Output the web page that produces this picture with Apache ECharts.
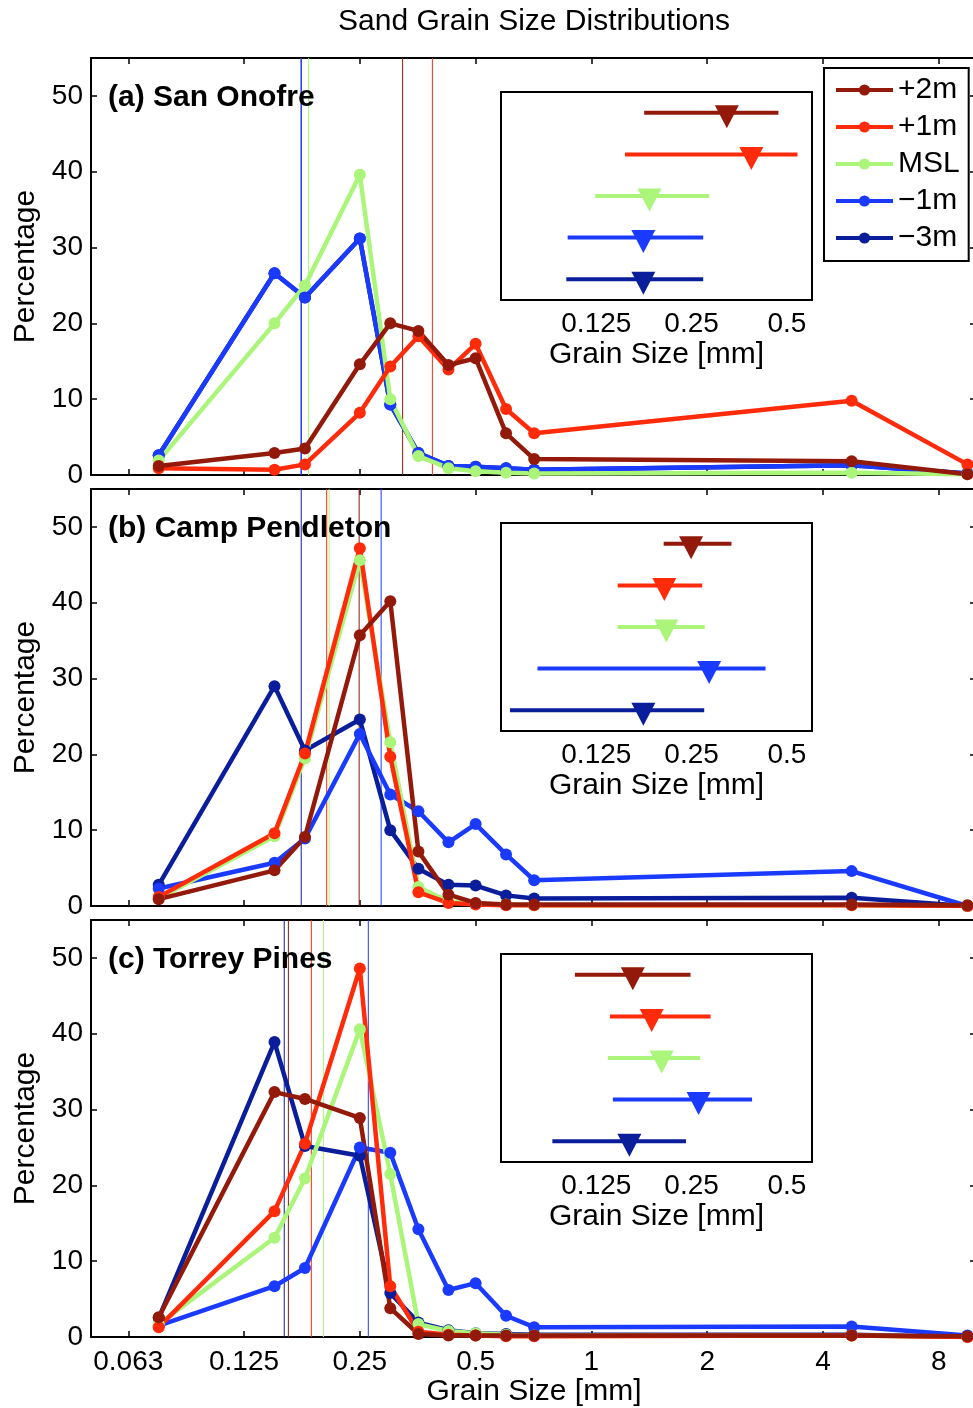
<!DOCTYPE html>
<html>
<head>
<meta charset="utf-8">
<script src="https://cdn.jsdelivr.net/npm/echarts@6/dist/echarts.min.js"></script>
<style>
  html, body { margin: 0; padding: 0; background: #fff; }
  #chart { width: 973px; height: 1408px; }
</style>
</head>
<body>
<div id="chart"></div>
<script>
// Sieve openings (mm) at which the retained percentage was measured
const sieveSizes = [0.075, 0.15, 0.18, 0.25, 0.3, 0.355, 0.425, 0.5, 0.6, 0.71, 4.75, 9.5];

// Beach elevations and their colours
const levels = ['+2m', '+1m', 'MSL', '−1m', '−3m'];
const levelColors = ['#931A0B', '#FF2B0A', '#AAF57A', '#1A3BFF', '#0A1E9C'];
const siteTitles = ['(a) San Onofre', '(b) Camp Pendleton', '(c) Torrey Pines'];

// Main axis ticks
const xTickValues = [0.0625, 0.125, 0.25, 0.5, 1, 2, 4, 8];
const xTickLabels = ['0.063', '0.125', '0.25', '0.5', '1', '2', '4', '8'];
const yTickValues = [0, 10, 20, 30, 40, 50];
// Inset axis ticks
const insetTickValues = [0.125, 0.25, 0.5];
const insetTickLabels = ['0.125', '0.25', '0.5'];

// Percentage retained per sieve — San Onofre
const soPlus2  = [1.2, 2.9, 3.5, 14.6, 20.0, 19.0, 14.5, 15.4, 5.5, 2.1, 1.8, 0.1];
const soPlus1  = [0.9, 0.7, 1.4, 8.2, 14.3, 18.3, 13.9, 17.3, 8.7, 5.5, 9.8, 1.4];
const soMSL    = [1.9, 20.0, 25.0, 39.6, 10.0, 2.5, 0.9, 0.5, 0.3, 0.2, 0.3, 0.1];
const soMinus1 = [2.6, 26.6, 23.4, 31.2, 9.3, 2.9, 1.2, 1.1, 0.9, 0.7, 1.3, 0.2];
const soMinus3 = [2.6, 26.6, 23.4, 31.2, 9.3, 2.9, 1.2, 1.1, 0.9, 0.7, 1.3, 0.2];

// Percentage retained per sieve — Camp Pendleton
const cpPlus2  = [0.9, 4.7, 9.1, 35.7, 40.2, 7.2, 1.5, 0.4, 0.2, 0.2, 0.2, 0.1];
const cpPlus1  = [1.2, 9.6, 20.1, 47.2, 19.7, 1.8, 0.4, 0.2, 0.1, 0.1, 0.1, 0.0];
const cpMSL    = [1.0, 9.2, 19.5, 45.6, 21.6, 2.5, 0.6, 0.3, 0.2, 0.1, 0.1, 0.0];
const cpMinus1 = [2.3, 5.7, 8.9, 22.7, 14.7, 12.5, 8.4, 10.8, 6.8, 3.4, 4.6, 0.0];
const cpMinus3 = [2.8, 29.0, 20.5, 24.6, 10.0, 4.9, 2.8, 2.7, 1.4, 1.0, 1.1, 0.0];

// Percentage retained per sieve — Torrey Pines
const tpPlus2  = [2.6, 32.3, 31.4, 28.9, 3.8, 0.4, 0.2, 0.2, 0.2, 0.2, 0.2, 0.1];
const tpPlus1  = [1.3, 16.6, 25.5, 48.6, 6.7, 0.7, 0.3, 0.2, 0.1, 0.1, 0.2, 0.0];
const tpMSL    = [1.7, 13.1, 20.9, 40.6, 21.5, 1.7, 0.8, 0.5, 0.3, 0.2, 0.2, 0.0];
const tpMinus1 = [1.5, 6.7, 9.1, 25.0, 24.3, 14.2, 6.2, 7.1, 2.8, 1.3, 1.4, 0.2];
const tpMinus3 = [2.5, 38.9, 25.2, 23.9, 5.8, 1.9, 0.9, 0.5, 0.4, 0.3, 0.3, 0.0];

// Mean grain size (mm) per level, with the low/high spread
const soMean = [0.323, 0.386, 0.184, 0.176, 0.176];
const soLow  = [0.177, 0.154, 0.124, 0.1015, 0.1005];
const soHigh = [0.470, 0.540, 0.284, 0.272, 0.272];

const cpMean = [0.249, 0.205, 0.208, 0.284, 0.176];
const cpLow  = [0.204, 0.146, 0.146, 0.0815, 0.0667];
const cpHigh = [0.334, 0.270, 0.275, 0.428, 0.274];

const tpMean = [0.163, 0.187, 0.201, 0.263, 0.159];
const tpLow  = [0.107, 0.138, 0.136, 0.141, 0.0908];
const tpHigh = [0.248, 0.287, 0.266, 0.388, 0.240];

const sitePercent = [
  [soPlus2, soPlus1, soMSL, soMinus1, soMinus3],
  [cpPlus2, cpPlus1, cpMSL, cpMinus1, cpMinus3],
  [tpPlus2, tpPlus1, tpMSL, tpMinus1, tpMinus3]
];
const siteMean = [soMean, cpMean, tpMean];
const siteLow  = [soLow, cpLow, tpLow];
const siteHigh = [soHigh, cpHigh, tpHigh];

// ---- layout ----
const FONT = '"Liberation Sans", Arial, Helvetica, sans-serif';
const Y_MAX = 55;
const mainTops = [58, 489, 920];
const mainHeight = 417;
const mainLeft = 91;
const mainWidth = 885;
const insetTops = [92, 523, 954];
const insetLeft = 501;
const insetWidth = 311;
const insetHeight = 208;

const axisLineStyle = { color: '#000', width: 2 };
const tickStyle = { color: '#000', width: 1.5 };
const labelFont = { fontSize: 28, fontFamily: FONT, color: '#000' };

const grid = [];
const xAxis = [];
const yAxis = [];
const series = [];
const graphic = [];

for (let i = 0; i < 3; i++) {
  grid.push({
    left: mainLeft, top: mainTops[i], width: mainWidth, height: mainHeight,
    containLabel: false, outerBoundsMode: 'none'
  });
}
for (let i = 0; i < 3; i++) {
  grid.push({
    left: insetLeft, top: insetTops[i], width: insetWidth, height: insetHeight,
    containLabel: false, outerBoundsMode: 'none',
    show: true, backgroundColor: '#fff', borderColor: '#000', borderWidth: 2, z: 4
  });
}

function logXAxis(gridIndex, position, min, max, ticks, labels, showLabels, margin) {
  return {
    type: 'log', logBase: 2, gridIndex, position, min, max,
    axisLine: { show: true, lineStyle: axisLineStyle, onZero: false },
    axisTick: { show: true, inside: true, length: 6, customValues: ticks, lineStyle: tickStyle },
    axisLabel: {
      show: showLabels, customValues: ticks, margin,
      formatter: (v) => {
        const k = ticks.findIndex(t => Math.abs(t - v) < 1e-9);
        return k >= 0 ? labels[k] : '';
      },
      ...labelFont
    },
    splitLine: { show: false },
    minorTick: { show: false },
    minorSplitLine: { show: false }
  };
}

// main axes: x bottom/top, y left/right
for (let i = 0; i < 3; i++) {
  xAxis.push(logXAxis(i, 'bottom', 0.05, 10, xTickValues, xTickLabels, i === 2, 11));
  xAxis.push(logXAxis(i, 'top', 0.05, 10, xTickValues, xTickLabels, false, 8));
  yAxis.push({
    type: 'value', gridIndex: i, position: 'left', min: 0, max: Y_MAX,
    axisLine: { show: true, lineStyle: axisLineStyle, onZero: false },
    axisTick: { show: true, inside: true, length: 6, customValues: yTickValues, lineStyle: tickStyle },
    axisLabel: { show: true, customValues: yTickValues, margin: 8, ...labelFont },
    splitLine: { show: false }
  });
  yAxis.push({
    type: 'value', gridIndex: i, position: 'right', min: 0, max: Y_MAX,
    axisLine: { show: true, lineStyle: axisLineStyle, onZero: false },
    axisTick: { show: true, inside: true, length: 6, customValues: yTickValues, lineStyle: tickStyle },
    axisLabel: { show: false },
    splitLine: { show: false }
  });
}
// inset axes
for (let i = 0; i < 3; i++) {
  const g = 3 + i;
  xAxis.push(logXAxis(g, 'bottom', 0.0625, 0.6, insetTickValues, insetTickLabels, true, 10));
  xAxis.push(logXAxis(g, 'top', 0.0625, 0.6, insetTickValues, insetTickLabels, false, 8));
  yAxis.push({
    type: 'value', gridIndex: g, position: 'left', min: 0.5, max: 5.5, inverse: true,
    axisLine: { show: false }, axisTick: { show: false }, axisLabel: { show: false },
    splitLine: { show: false }
  });
  yAxis.push({
    type: 'value', gridIndex: g, position: 'right', min: 0.5, max: 5.5, inverse: true,
    axisLine: { show: false }, axisTick: { show: false }, axisLabel: { show: false },
    splitLine: { show: false }
  });
}

for (let i = 0; i < 3; i++) {
  // thin vertical line at the mean grain size of each level
  for (let j = levels.length - 1; j >= 0; j--) {
    series.push({
      name: levels[j] + ' mean ' + i, type: 'line', xAxisIndex: 2 * i, yAxisIndex: 2 * i,
      data: [[siteMean[i][j], 0], [siteMean[i][j], Y_MAX]],
      symbol: 'none', lineStyle: { color: levelColors[j], width: 1 },
      z: 1, silent: true, animation: false
    });
  }
  // distributions, drawn from deepest to highest elevation
  for (let j = levels.length - 1; j >= 0; j--) {
    series.push({
      name: levels[j], type: 'line', xAxisIndex: 2 * i, yAxisIndex: 2 * i,
      data: sieveSizes.map((s, k) => [s, sitePercent[i][j][k]]),
      symbol: 'circle', symbolSize: 12, showSymbol: true,
      lineStyle: { color: levelColors[j], width: 4.5 },
      itemStyle: { color: levelColors[j] },
      z: 3, animation: false
    });
  }
  // inset: spread bars and mean triangles
  const ix = 6 + 2 * i;
  for (let j = 0; j < levels.length; j++) {
    series.push({
      name: levels[j] + ' spread ' + i, type: 'line', xAxisIndex: ix, yAxisIndex: ix,
      data: [[siteLow[i][j], j + 1], [siteHigh[i][j], j + 1]],
      symbol: 'none', lineStyle: { color: levelColors[j], width: 4 },
      z: 5, animation: false, silent: true
    });
  }
  series.push({
    name: 'mean ' + i, type: 'scatter', xAxisIndex: ix, yAxisIndex: ix,
    data: levels.map((lv, j) => ({ value: [siteMean[i][j], j + 1], itemStyle: { color: levelColors[j], opacity: 1 } })),
    symbol: 'triangle', symbolRotate: 180, symbolSize: [24, 23], symbolOffset: [0, 4],
    itemStyle: { opacity: 1 },
    z: 6, animation: false, silent: true
  });

  // panel titles, y-axis names and inset axis names
  graphic.push({
    type: 'text', x: 108, y: mainTops[i] + 40,
    style: { text: siteTitles[i], font: 'bold 30px ' + FONT, fill: '#000',
             align: 'left', verticalAlign: 'middle', textAlign: 'left', textVerticalAlign: 'middle' },
    z: 20
  });
  graphic.push({
    type: 'text', x: 26, y: mainTops[i] + mainHeight / 2, rotation: Math.PI / 2,
    style: { text: 'Percentage', font: '30px ' + FONT, fill: '#000',
             align: 'center', verticalAlign: 'middle', textAlign: 'center', textVerticalAlign: 'middle' },
    z: 20
  });
  graphic.push({
    type: 'text', x: insetLeft + insetWidth / 2, y: insetTops[i] + insetHeight + 55,
    style: { text: 'Grain Size [mm]', font: '30px ' + FONT, fill: '#000',
             align: 'center', verticalAlign: 'middle', textAlign: 'center', textVerticalAlign: 'middle' },
    z: 20
  });
}

graphic.push({
  type: 'text', x: 534, y: 22,
  style: { text: 'Sand Grain Size Distributions', font: '30px ' + FONT, fill: '#000',
           align: 'center', verticalAlign: 'middle', textAlign: 'center', textVerticalAlign: 'middle' },
  z: 20
});
graphic.push({
  type: 'text', x: 534, y: 1392,
  style: { text: 'Grain Size [mm]', font: '30px ' + FONT, fill: '#000',
           align: 'center', verticalAlign: 'middle', textAlign: 'center', textVerticalAlign: 'middle' },
  z: 20
});

const option = {
  animation: false,
  backgroundColor: '#fff',
  grid, xAxis, yAxis, series, graphic,
  legend: {
    data: levels, orient: 'vertical', left: 824, top: 68,
    itemWidth: 57, itemHeight: 14, itemGap: 7, itemTextGap: 7,
    padding: [7, 9, 8, 10],
    borderColor: '#000', borderWidth: 2, backgroundColor: '#fff',
    selectedMode: false,
    lineStyle: { width: 4 },
    textStyle: { fontSize: 30, fontFamily: FONT, color: '#000' },
    z: 10
  }
};

const chart = echarts.init(document.getElementById('chart'), null, { renderer: 'canvas' });
chart.setOption(option);
</script>
</body>
</html>
